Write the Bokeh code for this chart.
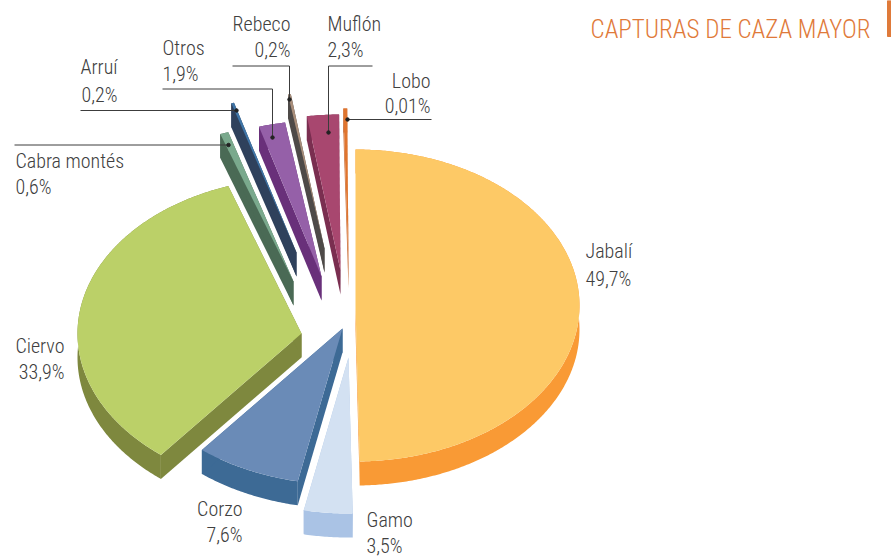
import numpy as np
from bokeh.plotting import figure
from bokeh.core.properties import value
from bokeh.embed import file_html
from bokeh.resources import INLINE

# ---- data ----
species = ["Jabalí", "Gamo", "Corzo", "Ciervo", "Cabra montés", "Arruí", "Otros", "Rebeco", "Muflón", "Lobo"]
shares = [49.7, 3.5, 7.6, 33.9, 0.6, 0.2, 1.9, 0.2, 2.3, 0.01]
title_text = "CAPTURAS DE CAZA MAYOR"

# ---- style / layout ----
top_colors = ["#FDC966", "#D3E1F2", "#6A8BB7", "#BBD068", "#7AA98D", "#3F75A7", "#9560A8", "#A98E7A", "#A8476F", "#E0752E"]
wall_colors = ["#F99A35", "#AAC3E5", "#3D6A95", "#7E883E", "#4A6A55", "#2F415C", "#69307A", "#4E4A48", "#7A2E50", "#C9703A"]
explode_x = [355, 348, 342, 301, 293, 296, 321, 324, 340, 348]
explode_y = [305, 357, 328, 333, 281, 252, 276, 248, 270, 264]
RX, RY, DEPTH = 224, 156, 24
MIN_SPAN = 1.0  # degrees: the tiniest slice is drawn at a visible width

label_x = [585, 366, 242, 64, 15, 117, 162, 290, 327, 430]
label_y1 = [251, 520, 509, 346, 161, 67, 48, 24, 24, 81]
label_y2 = [279, 546, 535, 372, 187, 95, 74, 50, 50, 106]
label_al = ["left", "left", "right", "right", "left", "right", "left", "right", "left", "right"]
leaders = {
    "Rebeco": ([232, 289, 289], [65.5, 65.5, 99]),
    "Muflón": ([372, 328, 328], [65.5, 65.5, 132]),
    "Lobo": ([431, 347], [119, 119]),
    "Otros": ([162, 272, 272], [88.5, 88.5, 137]),
    "Arruí": ([80, 236], [110, 110]),
    "Cabra montés": ([14, 228], [144.5, 144.5]),
}
FONT = value("Roboto Condensed Light")
TEXT = "#404040"

p = figure(width=891, height=557, x_range=(0, 891), y_range=(557, 0),
           output_backend="svg", toolbar_location=None, min_border=0,
           background_fill_color="white", border_fill_color="white")
p.axis.visible = False
p.grid.visible = False
p.outline_line_color = None

wx, wy, wc, tx, ty, tc = [], [], [], [], [], []
cum = 0.0
for i, s in enumerate(shares):
    start = cum * 3.6
    end = (cum + s) * 3.6
    cum += s
    if end - start < MIN_SPAN and s < 0.1:
        start = end - MIN_SPAN
    ang = np.radians(np.linspace(start, end, max(3, int(end - start) * 2)))
    ox = explode_x[i] + RX * np.sin(ang)
    oy = explode_y[i] - RY * np.cos(ang)
    wx.append(list(ox) + list(ox[::-1]))
    wy.append(list(oy) + list(oy[::-1] + DEPTH))
    wc.append(wall_colors[i])
    for e in (0, -1):
        wx.append([explode_x[i], ox[e], ox[e], explode_x[i]])
        wy.append([explode_y[i], oy[e], oy[e] + DEPTH, explode_y[i] + DEPTH])
        wc.append(wall_colors[i])
    tx.append([explode_x[i]] + list(ox))
    ty.append([explode_y[i]] + list(oy))
    tc.append(top_colors[i])

p.patches(wx, wy, fill_color=wc, line_color=None)
p.patches(tx, ty, fill_color=tc, line_color=None)

for name, (lx, ly) in leaders.items():
    p.line(lx, ly, line_color="#3C3C3C", line_width=1)
    p.scatter([lx[-1]], [ly[-1]], size=3.5, color="#222222")

for i, name in enumerate(species):
    pct = f"{shares[i]}".replace(".", ",") + "%"
    p.text([label_x[i]], [label_y1[i] - 1], text=[name], text_font=FONT, text_font_size="20px",
           text_color=TEXT, text_align=label_al[i], text_baseline="middle")
    p.text([label_x[i]], [label_y2[i] - 1], text=[pct], text_font=FONT, text_font_size="20px",
           text_color=TEXT, text_align=label_al[i], text_baseline="middle")

p.text([590], [29], text=[title_text], text_font=FONT, text_font_size="25px",
       text_color="#DF7A3A", text_align="left", text_baseline="middle")
p.quad(left=[887], right=[891], top=[0], bottom=[36], color="#DF7A3A")

open("out.html", "w").write(file_html(p, INLINE))
